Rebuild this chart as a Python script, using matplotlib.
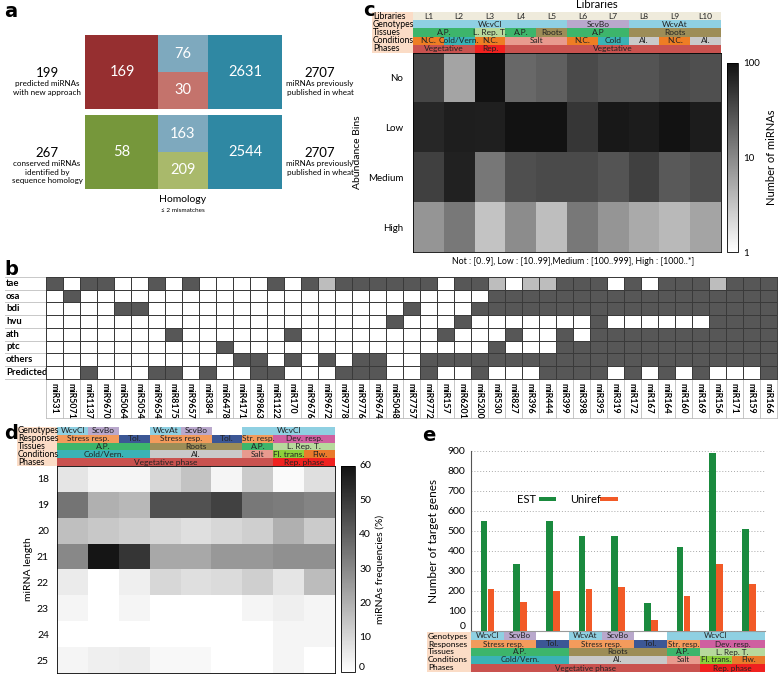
"""Multi-panel miRNA figure (a-e) rebuilt with matplotlib."""

import matplotlib.pyplot as plt
import numpy as np
from matplotlib.colors import LinearSegmentedColormap, ListedColormap, LogNorm, Normalize
from matplotlib.patches import Rectangle

W, H = 778, 675
plt.rcParams['font.family'] = ['Lato', 'DejaVu Sans']

# ── Panel a data ──────────────────────────────────────────────────────────────
A_TOTALS = ["199", "267"]
A_DESC = ["predicted miRNAs\nwith new approach",
          "conserved miRNAs\nidentified by\nsequence homology"]
A_OWN = [169, 58]
A_SHARED_TOP = [76, 163]
A_SHARED_BOT = [30, 209]
A_PUBLISHED = [2631, 2544]
A_PUB_TOTAL = ["2707", "2707"]

# ── Panel b data ('#' present, '+' partial, '.' absent) ───────────────────────
B_SPECIES = ["tae", "osa", "bdi", "hvu", "ath", "ptc", "others", "Predicted"]
B_MIRNAS = ["miR531", "miR5071", "miR1137", "miR9670", "miR5064", "miR5054",
            "miR9654", "miR8175", "miR9657", "miR384", "miR6478", "miR4171",
            "miR9863", "miR1122", "miR170", "miR9676", "miR9672", "miR9778",
            "miR9776", "miR9674", "miR5048", "miR7757", "miR9772", "miR157",
            "miR6201", "miR5200", "miR530", "miR827", "miR396", "miR444",
            "miR399", "miR398", "miR395", "miR319", "miR172", "miR167",
            "miR164", "miR160", "miR169", "miR156", "miR171", "miR159", "miR166"]
B_PRESENCE = [
    "#.##..#.#....#.#+######.##+.++###.#.###+###",
    ".#........................#################",
    "....##...............#...##################",
    "....................#...#.......#......####",
    ".......#......#........#...#..#.###########",
    "..........#...............#...#############",
    "...........##.#.#.##..#####################",
    "..#...##.#..##...###..#..#...####.#.#.#...#",
]

# ── Panel c data ──────────────────────────────────────────────────────────────
C_LIBRARIES = ["L1", "L2", "L3", "L4", "L5", "L6", "L7", "L8", "L9", "L10"]
C_GENOTYPES = [("WcvCl", 5), ("ScvBo", 2), ("WcvAt", 3)]
C_TISSUES = [("A.P.", 2), ("L. Rep. T.", 1), ("A.P.", 1), ("Roots", 1),
             ("A.P", 2), ("Roots", 3)]
C_CONDITIONS = [("N.C.", 1), ("Cold/Vern.", 1), ("N.C.", 1), ("Salt", 2),
                ("N.C.", 1), ("Cold", 1), ("Al.", 1), ("N.C.", 1), ("Al.", 1)]
C_PHASES = [("Vegetative", 2), ("Rep.", 1), ("Vegetative", 7)]
C_BINS = ["No", "Low", "Medium", "High"]
C_COUNTS = [
    [36, 5.8, 98, 18.5, 22, 33, 27, 27, 33, 30],
    [65, 79, 76, 100, 100, 49, 87, 82, 100, 82],
    [40, 73, 14, 30, 33, 33, 27, 40, 25, 30],
    [7.7, 13.8, 3.2, 9.3, 3.5, 13.8, 7.7, 5.2, 3.9, 5.8],
]

# ── Panel d / e data (shared header) ─────────────────────────────────────────
D_GENOTYPES = [("WcvCl", 1), ("ScvBo", 1), ("", 1), ("WcvAt", 1), ("ScvBo", 1),
               ("", 1), ("WcvCl", 3)]
D_RESPONSES = [("Stress resp.", 2), ("Tol.", 1), ("Stress resp.", 2), ("Tol.", 1),
               ("Str. resp.", 1), ("Dev. resp.", 2)]
D_TISSUES = [("A.P.", 3), ("Roots", 3), ("A.P.", 1), ("L. Rep. T.", 2)]
D_CONDITIONS = [("Cold/Vern.", 3), ("Al.", 3), ("Salt", 1), ("Fl. trans.", 1),
                ("Flw.", 1)]
D_PHASES = [("Vegetative phase", 7), ("Rep. phase", 2)]
D_LENGTHS = [18, 19, 20, 21, 22, 23, 24, 25]
D_FREQ = [
    [6.5, 2.5, 2.5, 10, 15, 2.5, 13, 1.3, 8],
    [35, 20, 18, 44, 44, 48, 34, 33, 31],
    [16, 14, 12, 10, 8, 10, 12, 20, 13],
    [30, 59, 51, 22, 22, 26, 26, 28, 28],
    [5, 0, 4, 10, 8, 9, 12, 6.5, 17],
    [2.5, 0, 2.5, 0, 0, 0, 2.5, 4, 2.5],
    [0, 0, 0, 0, 0, 0, 0, 2.5, 2.5],
    [2.5, 4, 4.5, 1.8, 1.8, 0, 0, 2.5, 0],
]
E_EST = [550, 335, 552, 473, 477, 142, 420, 890, 510]
E_UNIREF = [208, 143, 200, 210, 222, 57, 177, 335, 235]

# ── Styles ────────────────────────────────────────────────────────────────────
PEACH = "#fbdcc6"
SEG_COLORS = {
    "WcvCl": "#8fd0e2", "WcvAt": "#8fd0e2", "ScvBo": "#b9a8cc", "": None,
    "A.P.": "#3db56b", "A.P": "#3db56b", "L. Rep. T.": "#b7d99c", "Roots": "#9d8d57",
    "N.C.": "#ee7d24", "Cold/Vern.": "#3ab3b6", "Cold": "#3ab3b6", "Salt": "#e89a8e",
    "Al.": "#c9c9c9", "Vegetative": "#c9524f", "Vegetative phase": "#c9524f",
    "Rep.": "#f0211f", "Rep. phase": "#f0211f",
    "Stress resp.": "#f39b5c", "Str. resp.": "#f39b5c", "Tol.": "#3c5795",
    "Dev. resp.": "#cf60a0", "Fl. trans.": "#8dd03b", "Flw.": "#e97a2b",
}
GRAY_CMAP = LinearSegmentedColormap.from_list("w2k", ["#ffffff", "#121212"])

fig = plt.figure(figsize=(W / 100, H / 100), dpi=100)
cv = fig.add_axes([0, 0, 1, 1])
cv.set_xlim(0, W)
cv.set_ylim(H, 0)
cv.axis("off")


def px_axes(x0, y0, x1, y1):
    return fig.add_axes([x0 / W, 1 - y1 / H, (x1 - x0) / W, (y1 - y0) / H])


def draw_header(x_lab, x0, x1, y0, rh, ncols, rows, fs=6.0):
    cw = (x1 - x0) / ncols
    for r, (name, segs) in enumerate(rows):
        y = y0 + r * rh
        cv.add_patch(Rectangle((x_lab, y), x0 - x_lab, rh, fc=PEACH, ec="none"))
        cv.text(x_lab + 1, y + rh / 2, name, ha="left", va="center", fontsize=fs + 0.2)
        c = 0
        for label, span in segs:
            color = SEG_COLORS.get(label, "#efebdc")
            if color is not None:
                cv.add_patch(Rectangle((x0 + c * cw, y), span * cw, rh, fc=color, ec="none"))
            cv.text(x0 + (c + span / 2) * cw, y + rh / 2, label, ha="center",
                    va="center", fontsize=fs, color="#222222")
            c += span


# panel letters
for letter, (lx, ly) in zip("abcde", [(4, 2), (4, 260), (363, 1), (4, 424), (422, 426)]):
    cv.text(lx, ly, letter, fontsize=14, fontweight="bold", va="top",
            family="DejaVu Sans")

# ── Panel a ──────────────────────────────────────────────────────────────────
row_y = [(35, 109), (115, 189)]
own_colors = ["#962f30", "#76973b"]
bot_colors = ["#c4736c", "#a9b96b"]
for i in range(2):
    y0, y1 = row_y[i]
    ym = (y0 + y1) / 2
    cv.add_patch(Rectangle((85, y0), 73, y1 - y0, fc=own_colors[i], ec="none"))
    cv.add_patch(Rectangle((158, y0), 50, ym - y0, fc="#7ea9be", ec="none"))
    cv.add_patch(Rectangle((158, ym), 50, y1 - ym, fc=bot_colors[i], ec="none"))
    cv.add_patch(Rectangle((208, y0), 74, y1 - y0, fc="#2f88a3", ec="none"))
    cv.text(122, ym, str(A_OWN[i]), color="white", fontsize=10.5, ha="center", va="center")
    cv.text(183, (y0 + ym) / 2, str(A_SHARED_TOP[i]), color="white", fontsize=10.5,
            ha="center", va="center")
    cv.text(183, (ym + y1) / 2, str(A_SHARED_BOT[i]), color="white", fontsize=10.5,
            ha="center", va="center")
    cv.text(245, ym, str(A_PUBLISHED[i]), color="white", fontsize=10.5, ha="center",
            va="center")
    ty = 73 if i == 0 else 153
    cv.text(47, ty, A_TOTALS[i], fontsize=9.5, ha="center", va="center")
    cv.text(47, ty + 7, A_DESC[i], fontsize=5.8, ha="center", va="top", linespacing=1.25)
    cv.text(320, ty, A_PUB_TOTAL[i], fontsize=9.5, ha="center", va="center")
    cv.text(320, ty + 7, "miRNAs previously\npublished in wheat", fontsize=5.8,
            ha="center", va="top", linespacing=1.25)
cv.text(183, 200, "Homology", fontsize=7.5, ha="center", va="center")
cv.text(183, 211, "≤ 2 mismatches", fontsize=4.6, ha="center", va="center")

# ── Panel b ──────────────────────────────────────────────────────────────────
code = {".": 0, "+": 1, "#": 2}
b_mat = np.array([[code[ch] for ch in row] for row in B_PRESENCE])
bx0, by0, bx1, by1 = 45.7, 277, 776.7, 378.6
axb = px_axes(bx0, by0, bx1, by1)
axb.pcolormesh(b_mat, cmap=ListedColormap(["#ffffff", "#bdbdbd", "#575757"]),
               vmin=0, vmax=2, edgecolors="#3a3a3a", linewidth=0.7)
axb.set_ylim(len(B_SPECIES), 0)
axb.set_xlim(0, b_mat.shape[1])
axb.set_yticks([])
axb.set_xticks(np.arange(b_mat.shape[1]) + 0.5)
axb.set_xticklabels(B_MIRNAS, rotation=270, fontsize=6.3, fontweight="bold",
                    va="top", ha="center")
axb.tick_params(axis="x", length=0, pad=3)
for s in axb.spines.values():
    s.set_color("#3a3a3a")
    s.set_linewidth(0.7)
rh_b = (by1 - by0) / len(B_SPECIES)
for r, name in enumerate(B_SPECIES):
    cv.text(6, by0 + (r + 0.5) * rh_b, name, fontsize=6.8, fontweight="bold",
            ha="left", va="center")
    cv.plot([5, bx0], [by0 + r * rh_b] * 2, color="#c8c8c8", lw=0.7)
cv.plot([5, bx0], [by1, by1], color="#c8c8c8", lw=0.7)
cw_b = (bx1 - bx0) / b_mat.shape[1]
for c in range(b_mat.shape[1] + 1):
    cv.plot([bx0 + c * cw_b] * 2, [by1, 418], color="#bdbdbd", lw=0.6)
cv.plot([bx0, bx1], [418, 418], color="#bdbdbd", lw=0.6)

# ── Panel c ──────────────────────────────────────────────────────────────────
cx0, cx1 = 413, 721
cv.text(597, 5, "Libraries", fontsize=8, ha="center", va="center")
draw_header(372, cx0, cx1, 12, 8.2, len(C_LIBRARIES),
            [("Libraries", [(lib, 1) for lib in C_LIBRARIES]),
             ("Genotypes", C_GENOTYPES), ("Tissues", C_TISSUES),
             ("Conditions", C_CONDITIONS), ("Phases", C_PHASES)])
axc = px_axes(cx0, 53, cx1, 252)
imc = axc.imshow(np.array(C_COUNTS), cmap=GRAY_CMAP, norm=LogNorm(1, 100),
                 aspect="auto", interpolation="nearest")
axc.set_xticks([])
axc.set_yticks(range(len(C_BINS)))
axc.set_yticklabels(C_BINS, fontsize=7)
axc.tick_params(axis="y", length=0, pad=7)
axc.set_ylabel("Abundance Bins", fontsize=7.5, labelpad=4)
for s in axc.spines.values():
    s.set_linewidth(0.6)
caxc = px_axes(727, 63, 738, 252)
cbc = fig.colorbar(imc, cax=caxc, ticks=[1, 10, 100])
cbc.ax.set_yticklabels(["1", "10", "100"], fontsize=7)
cbc.ax.minorticks_off()
cbc.ax.tick_params(length=0, pad=4)
cbc.set_label("Number of miRNAs", fontsize=8, labelpad=4)
cbc.outline.set_linewidth(0.6)
cv.text(573, 262, "Not : [0..9], Low : [10..99],Medium : [100..999], High : [1000..*]",
        fontsize=6.3, ha="center", va="center")

# ── Panel d ──────────────────────────────────────────────────────────────────
dx0, dx1 = 57.3, 335
hdr_rows = [("Genotypes", D_GENOTYPES), ("Responses", D_RESPONSES),
            ("Tissues", D_TISSUES), ("Conditions", D_CONDITIONS), ("Phases", D_PHASES)]
draw_header(17, dx0, dx1, 427, 7.8, 9, hdr_rows)
axd = px_axes(dx0, 466, dx1, 673)
imd = axd.imshow(np.array(D_FREQ), cmap=GRAY_CMAP, norm=Normalize(0, 60),
                 aspect="auto", interpolation="nearest")
axd.set_xticks([])
axd.set_yticks(range(len(D_LENGTHS)))
axd.set_yticklabels([str(v) for v in D_LENGTHS], fontsize=7.5)
axd.tick_params(axis="y", length=0, pad=6)
axd.set_ylabel("miRNA length", fontsize=7.5, labelpad=3)
for s in axd.spines.values():
    s.set_linewidth(0.6)
caxd = px_axes(341, 466, 355, 672)
cbd = fig.colorbar(imd, cax=caxd, ticks=range(0, 61, 10))
cbd.ax.tick_params(labelsize=7.5, length=0, pad=3)
for lab in cbd.ax.get_yticklabels():
    lab.set_va("bottom" if lab.get_text() == "0" else "center")
cbd.set_label("miRNAs frequencies (%)", fontsize=7.5, labelpad=3)
cbd.outline.set_linewidth(0.6)

# ── Panel e ──────────────────────────────────────────────────────────────────
ex0, ex1 = 471, 765
axe = px_axes(ex0, 451, ex1, 631)
x = np.arange(len(E_EST))
axe.bar(x - 0.1, E_EST, width=0.2, color="#1a8a3e", zorder=3)
axe.bar(x + 0.11, E_UNIREF, width=0.2, color="#f25a27", zorder=3)
axe.set_xlim(-0.5, len(E_EST) - 0.5)
axe.set_ylim(0, 900)
axe.set_yticks(range(0, 901, 100))
axe.tick_params(axis="y", labelsize=7.5, length=0, pad=4)
for lab in axe.get_yticklabels():
    if lab.get_text() == "0":
        lab.set_va("bottom")
axe.set_xticks([])
axe.yaxis.grid(True, linestyle=(0, (1, 2)), color="#aaaaaa", lw=0.7)
axe.set_axisbelow(True)
for k in ["top", "right"]:
    axe.spines[k].set_visible(False)
axe.spines["left"].set_color("#555555")
axe.spines["bottom"].set_color("#999999")
axe.set_ylabel("Number of target genes", fontsize=8.5, labelpad=6)
axe.text(0.222, 0.733, "EST", transform=axe.transAxes, fontsize=8, ha="right",
         va="center")
axe.add_patch(Rectangle((0.232, 0.722), 0.058, 0.022, transform=axe.transAxes,
                        fc="#1a8a3e", ec="none"))
axe.text(0.337, 0.733, "Uniref", transform=axe.transAxes, fontsize=8, ha="left",
         va="center")
axe.add_patch(Rectangle((0.439, 0.722), 0.062, 0.022, transform=axe.transAxes,
                        fc="#f25a27", ec="none"))
draw_header(427, ex0, ex1, 632, 8, 9, hdr_rows, fs=5.8)

fig.savefig("out.png", dpi=100)
